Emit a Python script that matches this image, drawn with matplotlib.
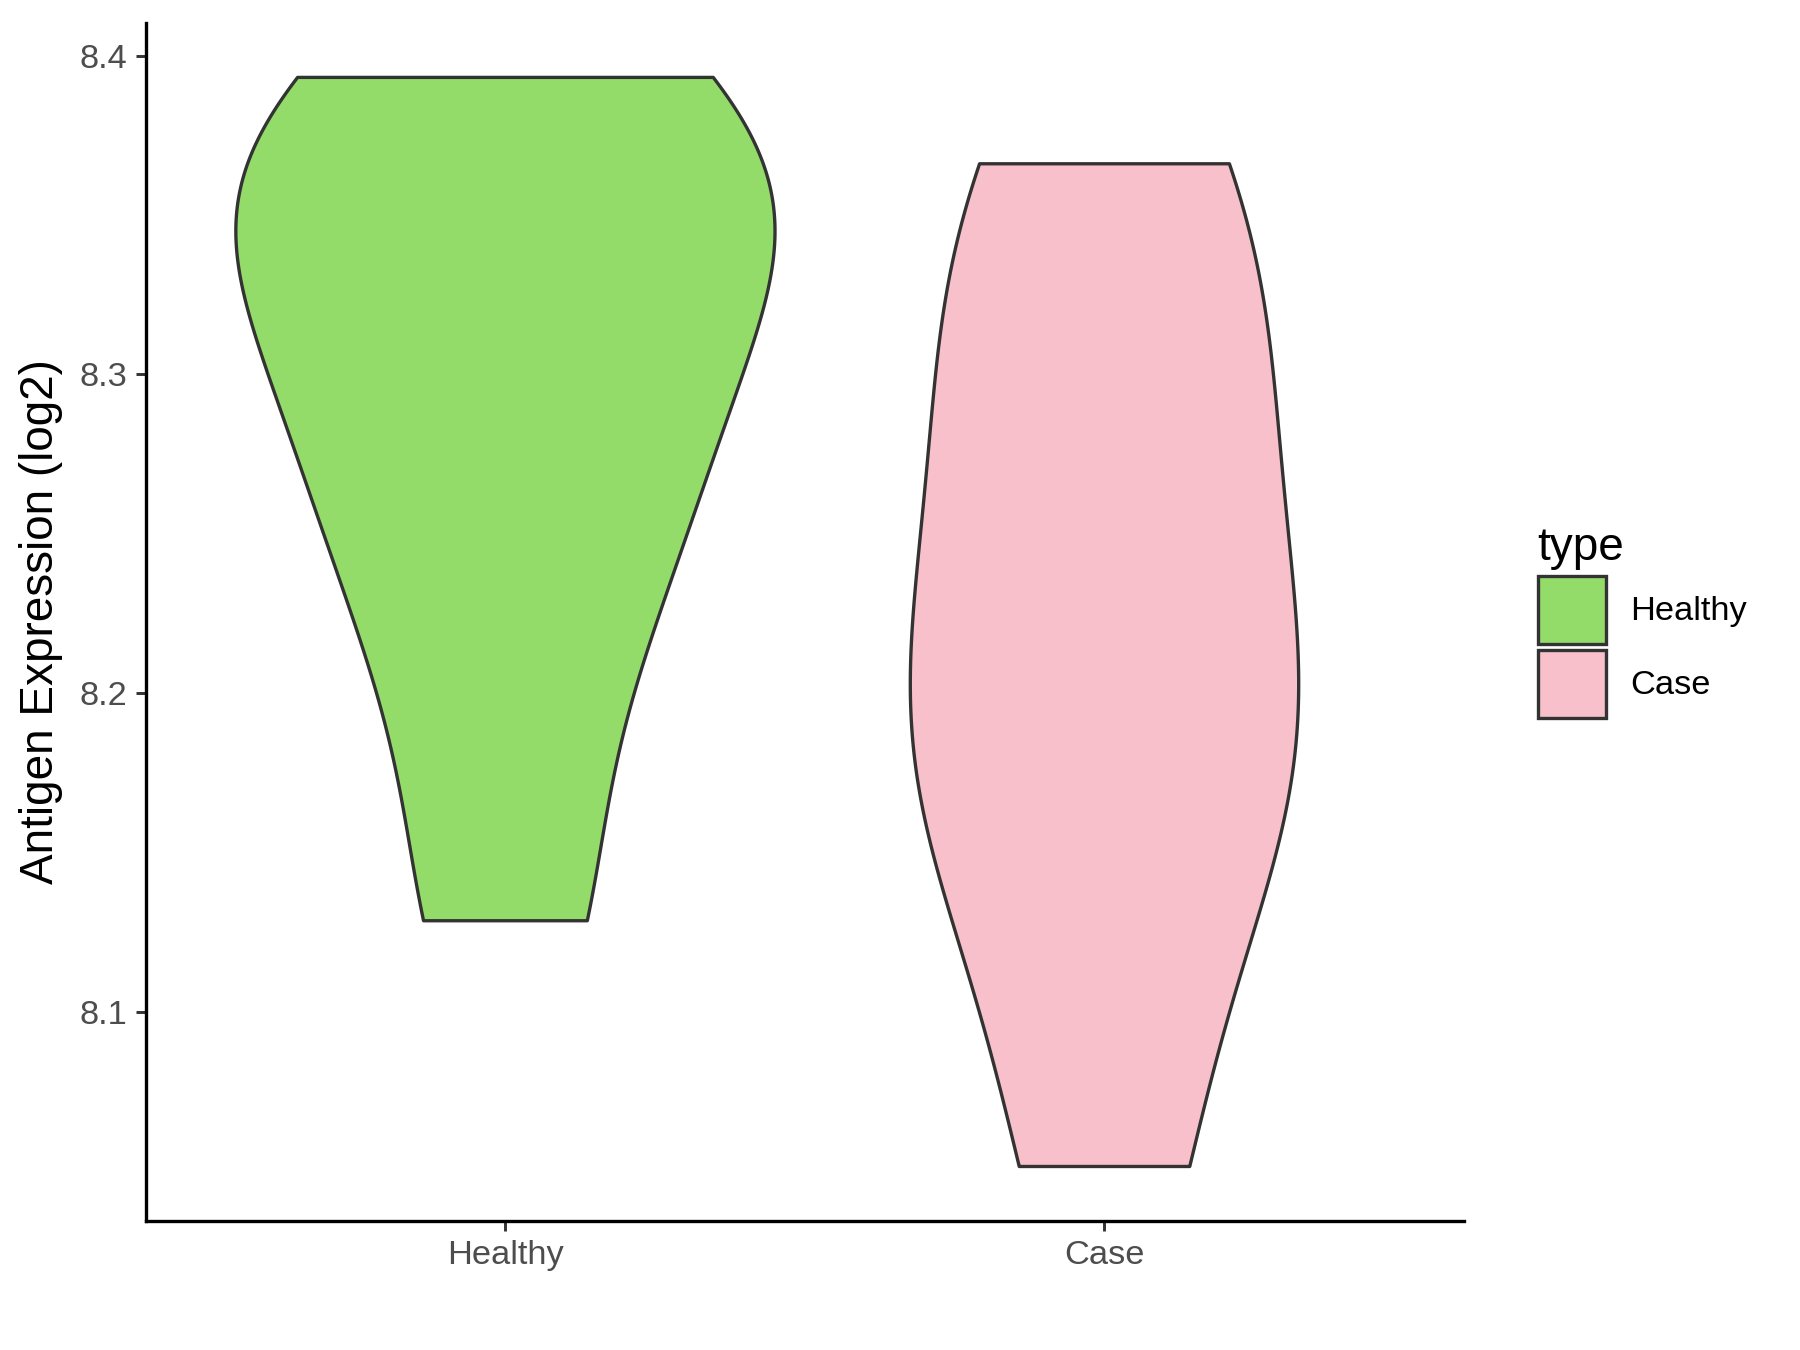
import numpy as np
import matplotlib
matplotlib.use("Agg")
import matplotlib.pyplot as plt
from matplotlib.patches import Patch

# expression values per group
categories = ["Healthy", "Case"]
healthy = [8.1286, 8.21, 8.26, 8.29, 8.335, 8.355, 8.37, 8.3932]
case = [8.0515, 8.145, 8.18, 8.21, 8.27, 8.325, 8.3661]
colors = ["#93DC6A", "#F7C0CB"]
yticks = [8.1, 8.2, 8.3, 8.4]

plt.rcParams['font.family'] = ['Liberation Sans', 'DejaVu Sans']


def bw_nrd0(x):
    # same rule of thumb as R's density()
    x = np.asarray(x)
    sd = np.std(x, ddof=1)
    q75, q25 = np.percentile(x, [75, 25])
    lo = min(sd, (q75 - q25) / 1.34)
    return 0.9 * lo * len(x) ** -0.2


def kde(x, grid):
    x = np.asarray(x)
    h = bw_nrd0(x)
    z = (grid[:, None] - x[None, :]) / h
    return np.exp(-0.5 * z ** 2).sum(axis=1) / (len(x) * h * np.sqrt(2 * np.pi))


groups = [healthy, case]
grids = [np.linspace(min(g), max(g), 512) for g in groups]
dens = [kde(g, gr) for g, gr in zip(groups, grids)]
dmax = max(d.max() for d in dens)

fig = plt.figure(figsize=(12, 9), dpi=150)
ax = fig.add_axes([0.0811, 0.0956, 0.7322, 0.8874])

for i, (gr, d) in enumerate(zip(grids, dens)):
    pos = i + 1
    half = 0.45 * d / dmax
    xs = np.concatenate([pos - half, (pos + half)[::-1]])
    ys = np.concatenate([gr, gr[::-1]])
    ax.fill(xs, ys, facecolor=colors[i], edgecolor="#333333", linewidth=1.6,
            joinstyle="round")

allv = np.concatenate(groups)
rng = allv.max() - allv.min()
ax.set_ylim(allv.min() - 0.05 * rng, allv.max() + 0.05 * rng)
ax.set_xlim(0.4, 2.6)
ax.set_xticks([1, 2])
ax.set_xticklabels(categories)
ax.set_yticks(yticks)
ax.set_yticklabels([f"{t:.1f}" for t in yticks])
ax.set_ylabel("Antigen Expression (log2)", fontsize=22, color="black", labelpad=8)

for s in ["top", "right"]:
    ax.spines[s].set_visible(False)
for s in ["left", "bottom"]:
    ax.spines[s].set_linewidth(1.6)
    ax.spines[s].set_color("black")
ax.tick_params(axis="both", length=5, width=1.4, color="#333333",
               labelsize=16.5, labelcolor="#4D4D4D", pad=4)

handles = [Patch(facecolor=c, edgecolor="#333333", linewidth=1.6) for c in colors]
leg = fig.legend(handles, categories, title="type", loc="center left",
                 bbox_to_anchor=(0.837, 0.539), frameon=False, fontsize=16.5,
                 title_fontsize=22, handlelength=2.0, handleheight=2.7,
                 labelspacing=0.15, handletextpad=0.7, alignment="left")

fig.savefig("out.png", dpi=150)
